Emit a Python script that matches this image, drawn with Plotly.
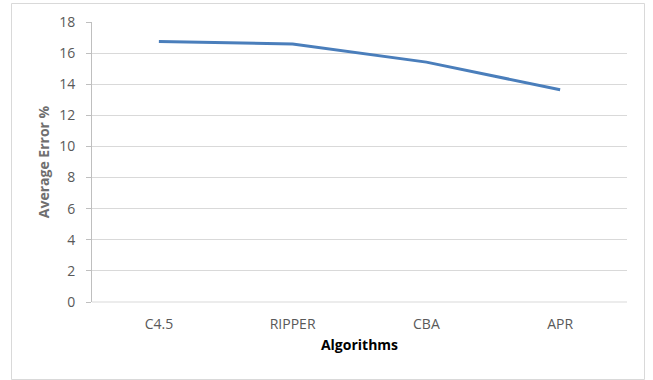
import plotly.graph_objects as go

algorithms = ["C4.5", "RIPPER", "CBA", "APR"]
avg_error = [16.75, 16.58, 15.42, 13.65]
y_ticks = [0, 2, 4, 6, 8, 10, 12, 14, 16, 18]

fig = go.Figure()
fig.add_trace(go.Scatter(
    x=algorithms, y=avg_error, mode="lines",
    line=dict(color="#4a7ebb", width=3),
    showlegend=False, hoverinfo="x+y"))

# plot area in page pixels (page body margin removed below)
PL, PR, PT, PB = 92, 627, 22, 302
L, T = PL, PT
R, B = 653 - PR, 380 - PB
pw, ph = PR - PL, PB - PT

fig.update_layout(
    width=653, height=380,
    margin=dict(l=L, r=R, t=T, b=B, autoexpand=False),
    paper_bgcolor="white", plot_bgcolor="white",
    font=dict(family="Open Sans, Liberation Sans, sans-serif", color="#595959"),
    xaxis=dict(
        showgrid=False, showline=False, ticks="",
        automargin=False, ticklabelstandoff=12,
        tickfont=dict(size=14, color="#595959"),
        title=dict(text="<b>Algorithms</b>", font=dict(size=14, color="#000000"), standoff=8),
        range=[-0.5, 3.5],
    ),
    yaxis=dict(
        range=[0, 18], tickvals=y_ticks, automargin=False,
        showgrid=True, gridcolor="#d9d9d9", gridwidth=1,
        showline=True, linecolor="#bfbfbf", linewidth=1,
        ticks="outside", ticklen=5, tickcolor="#bfbfbf",
        ticklabelstandoff=8,
        tickfont=dict(size=14, color="#595959"),
        title=dict(text="<b>Average Error %</b>", font=dict(size=14, color="#6f6f6f"), standoff=6),
        zeroline=False,
    ),
    shapes=[
        dict(type="rect", xref="paper", yref="paper",
             x0=(11.5 - PL) / pw, x1=(644.5 - PL) / pw,
             y0=-(379.5 - PB) / ph, y1=(PB - 3.5) / ph,
             line=dict(color="#d9d9d9", width=1), fillcolor="rgba(0,0,0,0)", layer="below"),
        dict(type="line", xref="paper", yref="paper", x0=0, x1=1, y0=0, y1=0,
             line=dict(color="#d9d9d9", width=1)),
    ],
)

fig.write_html("out.html", config={"displayModeBar": False},
               post_script="document.body.style.margin='0';")
